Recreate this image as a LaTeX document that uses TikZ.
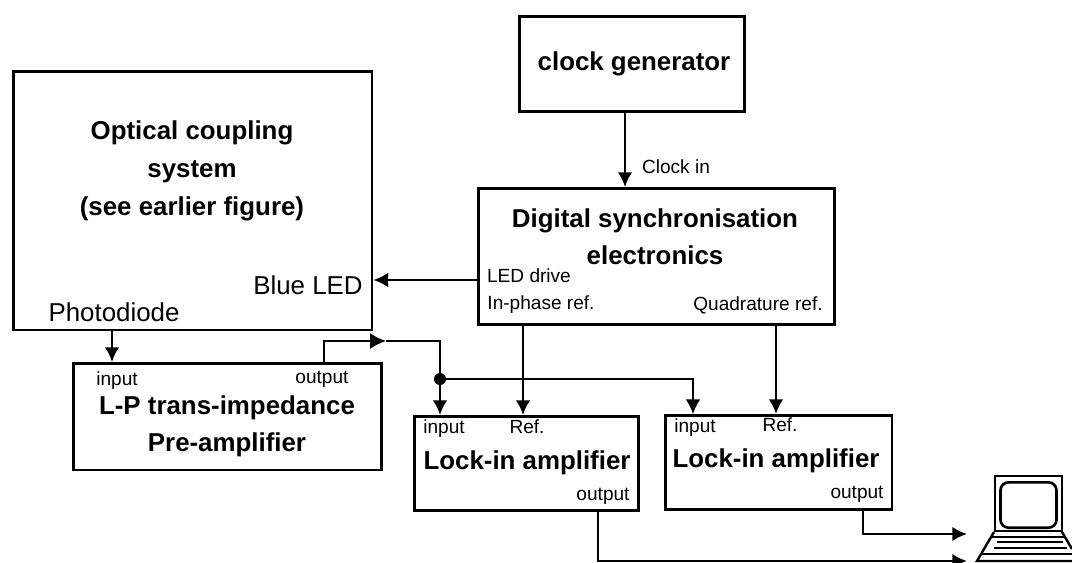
\documentclass[tikz,border=0pt]{standalone}
\usepackage{fontspec}
\setmainfont{Liberation Sans}
\usetikzlibrary{arrows.meta,calc}
\tikzset{
  block/.style={draw=black,line width=2pt,fill=white,anchor=north west,inner sep=0pt},
  title/.style={font=\fontsize{19.4}{27.5}\selectfont\bfseries,align=center,inner sep=0pt},
  port/.style={font=\fontsize{14.3}{16}\selectfont,inner sep=0pt},
  big/.style={font=\fontsize{19.4}{22}\selectfont,inner sep=0pt},
  wire/.style={draw=black,line width=2pt,-{Latex[length=11pt,width=11pt]}},
  plain/.style={draw=black,line width=2pt},
  thin wire/.style={draw=black,line width=1.2pt},
}
\begin{document}
\begin{tikzpicture}[x=0.75pt,y=-0.75pt]
\useasboundingbox (0,0) rectangle (1072,562);
\path[clip] (0,0) rectangle (1072,562);
% blocks
\node[block,minimum width=169pt,minimum height=71.5pt] (clock) at (518,15) {};
\node[block,minimum width=269pt,minimum height=194pt] (optical) at (12,70) {};
\node[block,minimum width=267pt,minimum height=102pt] (digital) at (477,187) {};
\node[block,minimum width=231pt,minimum height=80pt] (pre) at (72,362) {};
\node[block,minimum width=168pt,minimum height=70.5pt] (lockA) at (413,415) {};
\node[block,minimum width=170pt,minimum height=70.5pt] (lockB) at (664,414) {};
% titles
\node[title] (tclock) at (634,64) {clock generator};
\node[title,font=\fontsize{19.4}{28.5}\selectfont\bfseries] (topt) at (192,171) {Optical coupling\\system\\(see earlier figure)};
\node[title] (tdig) at (655,237) {Digital synchronisation\\electronics};
\node[title] (tpre) at (227,426) {L-P trans-impedance\\Pre-amplifier};
\node[title] (tlockA) at (527,463) {Lock-in amplifier};
\node[title] (tlockB) at (776,461) {Lock-in amplifier};
% labels
\node[big] (lblue) at (308,285) {Blue LED};
\node[big] (lphoto) at (114,312) {Photodiode};
\node[port] (lclk) at (676,167) {Clock in};
\node[port] (lled) at (529,276) {LED drive};
\node[port] (linph) at (541,305) {In-phase ref.};
\node[port] (lquad) at (758,305) {Quadrature ref.};
\node[port] (linpre) at (117,381) {input};
\node[port] (loutpre) at (322,379) {output};
\node[port] (linA) at (444,429) {input};
\node[port] (lrefA) at (527,427) {Ref.};
\node[port] (loutA) at (603,496) {output};
\node[port] (linB) at (695,428) {input};
\node[port] (lrefB) at (780,425) {Ref.};
\node[port] (loutB) at (857,494) {output};
% junction
\node[circle,fill=black,inner sep=0pt,minimum size=9pt] (dot) at (440,379) {};
% laptop
\coordinate (pcA) at (967,534);
\coordinate (pcB) at (967,561);
\draw[line width=1.8pt] (995,531) -- (995,476) -- (1062,476) -- (1062,531) -- cycle;
\node[draw=black,line width=2pt,rounded corners=6pt,minimum width=42pt,minimum height=34pt,inner sep=0pt] (screen) at (1028.5,505) {};
\draw[line width=1.8pt] (994,532) -- (977,561) -- (1072,561) (1062,532) -- (1072,549);
\draw[line width=1.2pt] (991,537) -- (1065,537) (980,554) -- (1072,554);
\draw[line width=2pt] (997,542) -- (1063,542) (994,548) -- (1067,548);
% connectors
\draw[wire] (clock.south -| 625,0) -- (digital.north -| 625,0);
\draw[wire] (digital.west |- 0,280) -- (optical.east |- 0,280);
\draw[wire] (optical.south -| 112,0) -- (pre.north -| 112,0);
\coordinate (tip) at (386,341);
\draw[thin wire,-{Latex[length=12pt,width=12pt]}] (pre.north -| 324,0) -- (324,341) -- (tip);
\draw[plain] (tip) -- (440,341) -- (dot.center);
\draw[wire] (dot.center) -- (dot.center |- lockA.north);
\draw[thin wire,-{Latex[length=11pt,width=11pt]}] (dot.center) -- (693,379) -- (lockB.north -| 693,0);
\draw[wire] (digital.south -| 523,0) -- (lockA.north -| 523,0);
\draw[wire] (digital.south -| 776,0) -- (lockB.north -| 776,0);
\draw[wire] (lockB.south -| 863,0) -- (863,534) -- (pcA);
\draw[wire] (lockA.south -| 598,0) -- (598,561) -- (pcB);
\end{tikzpicture}
\end{document}
